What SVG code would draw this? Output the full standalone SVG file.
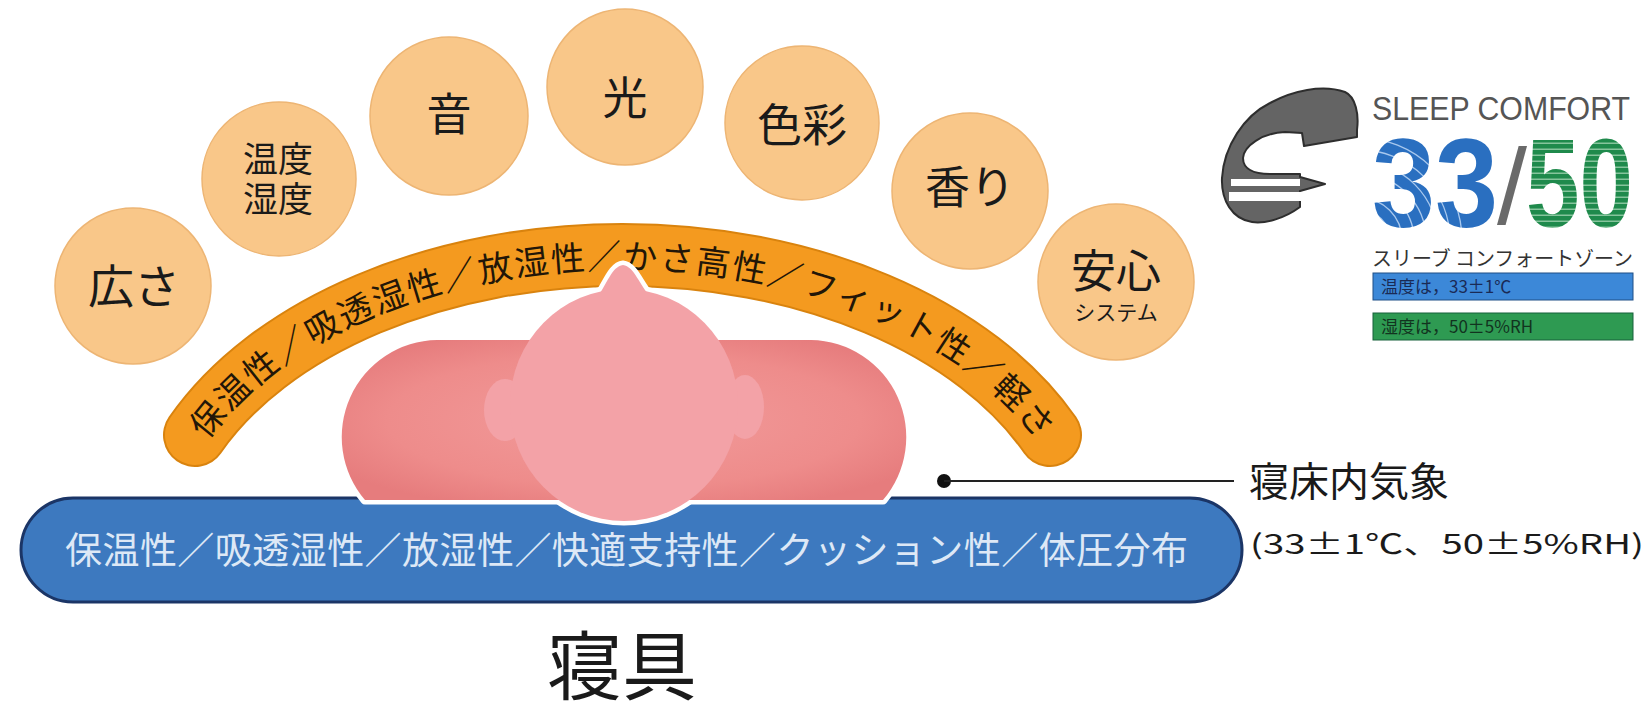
<svg xmlns="http://www.w3.org/2000/svg" width="1651" height="711" viewBox="0 0 1651 711">
  <defs>
    <style>
      .jp { font-family: "Noto Sans CJK JP", "Noto Sans", sans-serif; }
      .bubble circle { fill: #F9C789; stroke: #EDB574; stroke-width: 1.5; }
      .bubble text { fill: #1a1a1a; text-anchor: middle; }
      .outline { fill: #ffffff; stroke: #ffffff; stroke-width: 9; stroke-linejoin: round; }
    </style>
    <!-- centre line of the orange arc -->
    <path id="arcBand" d="M 195 435 A 470 308 0 0 1 1050 435"/>
    <!-- text baseline, slightly inside the centre line -->
    <path id="arcText" d="M 165 564 A 457 295 0 0 1 1079 564"/>
    <radialGradient id="bodyGrad" cx="0.5" cy="0.5" r="0.6">
      <stop offset="0" stop-color="#F29C9C"/>
      <stop offset="0.7" stop-color="#EE8C8B"/>
      <stop offset="1" stop-color="#E67C7D"/>
    </radialGradient>
    <pattern id="stripes50" patternUnits="userSpaceOnUse" width="10" height="6">
      <rect width="10" height="6" fill="#1F8A4C"/>
      <rect y="4.6" width="10" height="1.2" fill="#9fd3b0"/>
    </pattern>
    <pattern id="waves33" patternUnits="userSpaceOnUse" x="1360" y="120" width="160" height="120">
      <rect width="160" height="120" fill="#2A6FC0"/>
      <g fill="none" stroke="#a8c8ee" stroke-width="1.3">
        <circle cx="0" cy="120" r="30"/>
        <circle cx="0" cy="120" r="42"/>
        <circle cx="0" cy="120" r="54"/>
        <circle cx="0" cy="120" r="66"/>
        <circle cx="0" cy="120" r="78"/>
        <circle cx="0" cy="120" r="90"/>
        <circle cx="0" cy="120" r="102"/>
      </g>
    </pattern>
  </defs>

  <rect width="1651" height="711" fill="#ffffff"/>

  <!-- environmental factor bubbles -->
  <g id="bubble-hirosa" class="bubble jp">
    <circle cx="133" cy="286" r="78"/>
    <text x="134" y="303" font-size="46">広さ</text>
  </g>
  <g id="bubble-ondo" class="bubble jp">
    <circle cx="279" cy="179" r="77"/>
    <text x="278" y="172" font-size="35">温度</text>
    <text x="278" y="212" font-size="35">湿度</text>
  </g>
  <g id="bubble-oto" class="bubble jp">
    <circle cx="449" cy="116" r="79"/>
    <text x="449" y="131" font-size="45">音</text>
  </g>
  <g id="bubble-hikari" class="bubble jp">
    <circle cx="625" cy="87" r="78"/>
    <text x="625" y="115" font-size="45">光</text>
  </g>
  <g id="bubble-shikisai" class="bubble jp">
    <circle cx="802" cy="123" r="77"/>
    <text x="802" y="142" font-size="45">色彩</text>
  </g>
  <g id="bubble-kaori" class="bubble jp">
    <circle cx="970" cy="191" r="78"/>
    <text x="970" y="204" font-size="45">香り</text>
  </g>
  <g id="bubble-anshin" class="bubble jp">
    <circle cx="1116" cy="282" r="78"/>
    <text x="1116" y="288" font-size="45">安心</text>
    <text x="1116" y="320" font-size="21">システム</text>
  </g>

  <!-- orange arc: properties of the cover -->
  <g id="cover-arc">
    <use href="#arcBand" fill="none" stroke="#D9830E" stroke-width="64" stroke-linecap="round"/>
    <use href="#arcBand" fill="none" stroke="#F49A1F" stroke-width="60" stroke-linecap="round"/>
    <text class="jp" font-size="34" fill="#221608">
      <textPath href="#arcText" startOffset="50%" text-anchor="middle" textLength="930" lengthAdjust="spacing">保温性／吸透湿性／放湿性／かさ高性／フィット性／軽さ</textPath>
    </text>
  </g>

  <!-- blue base: properties of the mattress -->
  <g id="mattress">
    <rect x="21" y="498" width="1221" height="104" rx="52" fill="#3D79BF" stroke="#1B3566" stroke-width="3"/>
    <text class="jp" x="65" y="564" font-size="37" fill="#DDE8F6" textLength="1123" lengthAdjust="spacing">保温性／吸透湿性／放湿性／快適支持性／クッション性／体圧分布</text>
  </g>

  <!-- sleeper figure -->
  <g id="sleeper">
    <g class="outline">
      <path d="M 365 500 A 97 97 0 0 1 437 340 L 811 340 A 97 97 0 0 1 883 500 Z"/>
      <ellipse cx="624" cy="405" rx="114" ry="116"/>
      <ellipse cx="505" cy="410" rx="21" ry="31"/>
      <ellipse cx="745" cy="407" rx="19" ry="32"/>
      <path d="M 598 296 C 606 286 612 266 623 265 C 634 266 640 286 650 296 Z"/>
    </g>
    <path d="M 365 500 A 97 97 0 0 1 437 340 L 811 340 A 97 97 0 0 1 883 500 Z" fill="url(#bodyGrad)"/>
    <g fill="#F3A2A7">
      <ellipse cx="505" cy="410" rx="21" ry="31"/>
      <ellipse cx="745" cy="407" rx="19" ry="32"/>
      <ellipse cx="624" cy="405" rx="114" ry="116"/>
      <path d="M 598 296 C 606 286 612 266 623 265 C 634 266 640 286 650 296 Z"/>
    </g>
  </g>

  <!-- bed climate callout -->
  <g id="connectors">
    <circle cx="944" cy="481" r="7" fill="#111"/>
    <line x1="944" y1="481" x2="1234" y2="481" stroke="#222" stroke-width="2"/>
  </g>
  <g id="bed-climate" class="jp" fill="#1a1a1a">
    <text x="1249" y="496" font-size="40">寝床内気象</text>
    <text x="1250" y="554" font-size="27" textLength="394" lengthAdjust="spacingAndGlyphs">(33±1℃、50±5%RH)</text>
  </g>

  <!-- title -->
  <g id="title">
    <text class="jp" x="622" y="694" font-size="75" fill="#1a1a1a" text-anchor="middle">寝具</text>
  </g>

  <!-- sleep comfort zone logo -->
  <g id="logo">
    <path d="M 1300 207 C 1285 218 1266 224 1252 222 C 1232 219 1221 200 1222 178 C 1224 146 1244 116 1270 103 C 1292 91 1322 84 1345 92 C 1356 97 1359 115 1357 130 L 1357 137 L 1304 146 L 1302 133 L 1285 132 C 1262 133 1244 146 1243 158 C 1243 169 1254 174 1270 174 L 1300 174 L 1300 177 L 1325 184 L 1300 191 Z" fill="#646464" stroke="#2e2e2e" stroke-width="2" stroke-linejoin="round"/>
    <rect x="1231" y="179" width="69" height="7" fill="#ffffff"/>
    <rect x="1229" y="192" width="73" height="9" fill="#ffffff"/>
    <text x="1372" y="120" font-family="'Liberation Sans', Arial, sans-serif" font-size="33" fill="#555" textLength="258" lengthAdjust="spacingAndGlyphs">SLEEP COMFORT</text>
    <text x="1372" y="227" font-family="'Liberation Sans', Arial, sans-serif" font-weight="bold" font-size="126" fill="url(#waves33)" textLength="126" lengthAdjust="spacingAndGlyphs">33</text>
    <text x="1497" y="224" font-family="'Liberation Sans', Arial, sans-serif" font-size="108" fill="#6a6a6a">/</text>
    <text x="1526" y="227" font-family="'Liberation Sans', Arial, sans-serif" font-weight="bold" font-size="126" fill="url(#stripes50)" textLength="107" lengthAdjust="spacingAndGlyphs">50</text>
    <text class="jp" x="1372" y="266" font-size="20" fill="#333" textLength="261" lengthAdjust="spacingAndGlyphs">スリーブ コンフォートゾーン</text>
    <rect x="1373" y="273" width="260" height="27" fill="#3C88D8" stroke="#1f4f86" stroke-width="1"/>
    <text class="jp" x="1381" y="293" font-size="17" fill="#1a2a55">温度は，33±1℃</text>
    <rect x="1373" y="313" width="260" height="27" fill="#2E9A52" stroke="#17603a" stroke-width="1"/>
    <text class="jp" x="1381" y="333" font-size="17" fill="#12331f">湿度は，50±5%RH</text>
  </g>
</svg>
